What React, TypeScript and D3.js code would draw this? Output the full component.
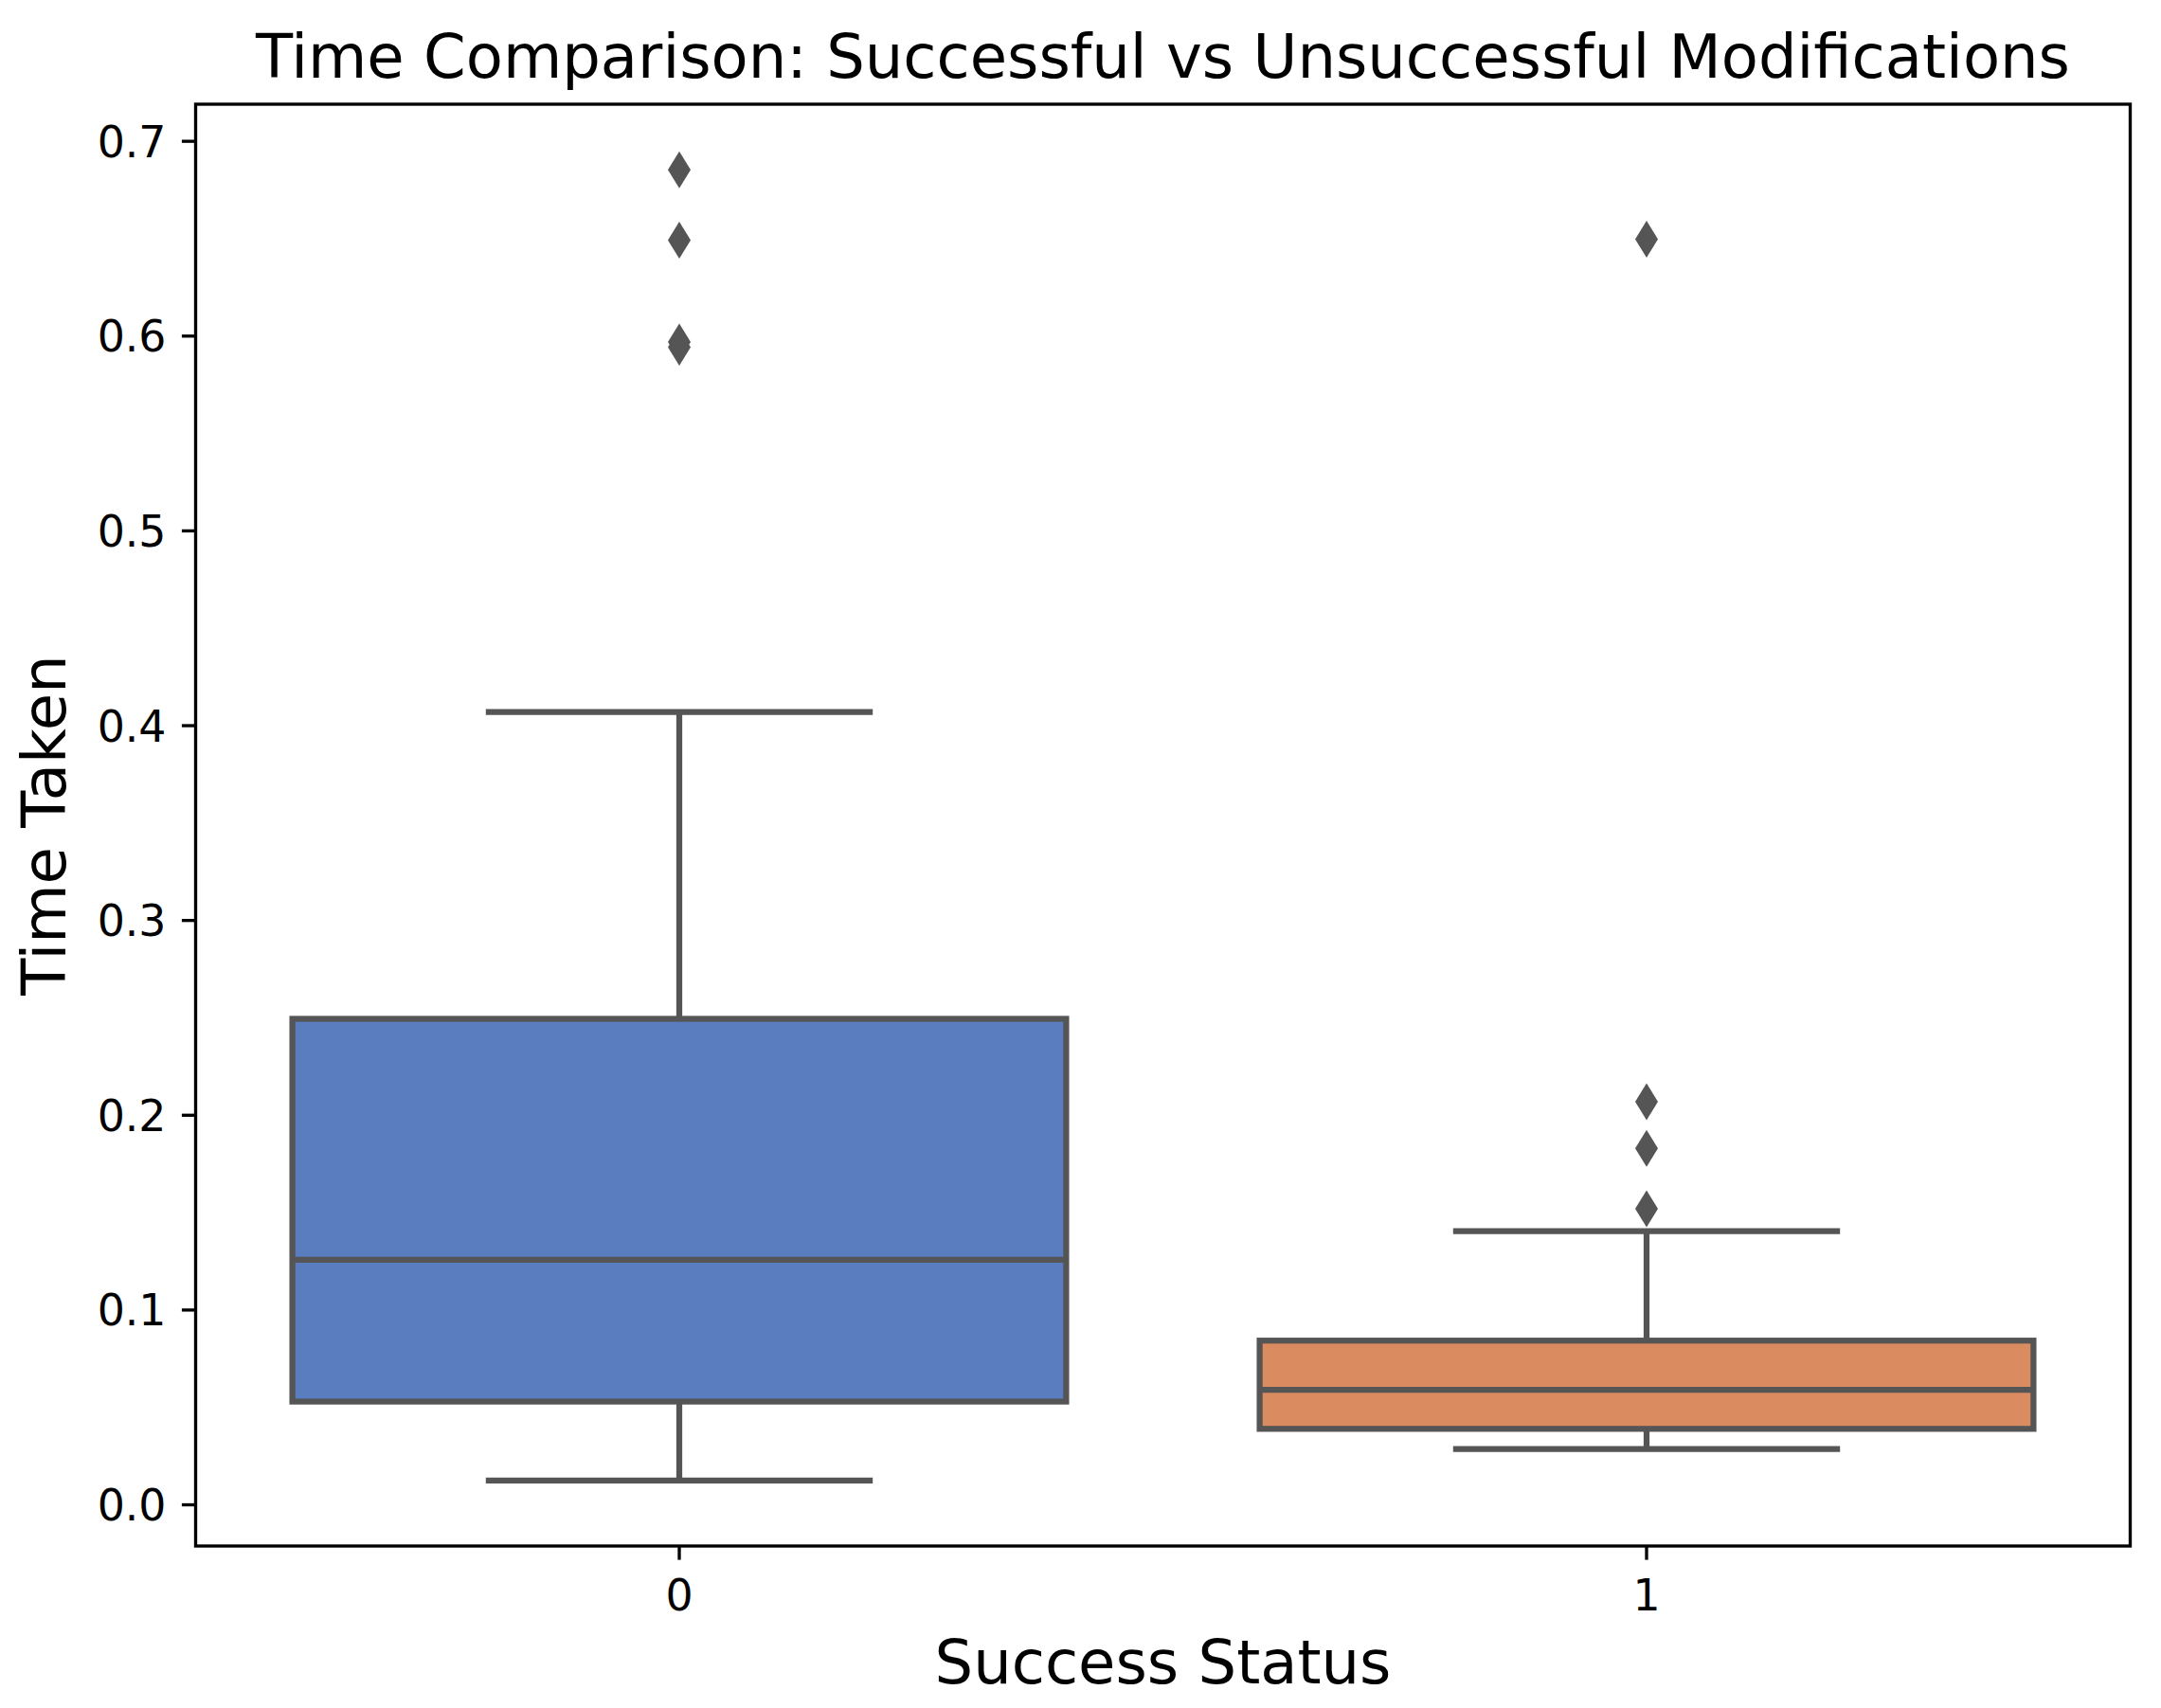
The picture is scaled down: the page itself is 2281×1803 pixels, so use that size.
import React from "react";
import * as d3 from "d3";

const categories = ["0", "1"];
const boxColors = ["#597DBF", "#DA8B5F"];
const q1Values = [0.053, 0.039];
const medianValues = [0.1258, 0.059];
const q3Values = [0.2495, 0.0843];
const whiskerLow = [0.0125, 0.0287];
const whiskerHigh = [0.407, 0.1405];
const outliers0 = [0.6854, 0.6492, 0.597, 0.5943];
const outliers1 = [0.6497, 0.207, 0.183, 0.152];
const outliers = [outliers0, outliers1];
const yTicks = [0, 0.1, 0.2, 0.3, 0.4, 0.5, 0.6, 0.7];

const W = 2281;
const H = 1803;
const left = 206.5;
const right = 2248.5;
const top = 110;
const bottom = 1632;
const lineGray = "#555555";
const lw = 6.25;
const font = "DejaVu Sans, sans-serif";
const tickFont = 45.8;
const labelFont = 64;

export default function App() {
  const allVals = [...whiskerLow, ...whiskerHigh, ...outliers0, ...outliers1];
  const mn = d3.min(allVals) as number;
  const mx = d3.max(allVals) as number;
  const pad = (mx - mn) * 0.05;
  const y = d3.scaleLinear().domain([mn - pad, mx + pad]).range([bottom, top]);
  const x = d3.scaleLinear().domain([-0.5, categories.length - 0.5]).range([left, right]);
  const boxW = x(0.8) - x(0);
  const fmt = d3.format(".1f");

  const diamond = (cx: number, cy: number) =>
    `M${cx},${cy - 19.5}L${cx + 12},${cy}L${cx},${cy + 19.5}L${cx - 12},${cy}Z`;

  return (
    <svg width={W} height={H} style={{ position: "absolute", left: 0, top: 0, background: "#fff" }}>
      <rect x={0} y={0} width={W} height={H} fill="#fff" />
      {categories.map((c, i) => {
        const cx = x(i);
        const x0 = cx - boxW / 2;
        const capHalf = boxW / 4;
        return (
          <g key={c}>
            <line x1={cx} x2={cx} y1={y(q3Values[i])} y2={y(whiskerHigh[i])} stroke={lineGray} strokeWidth={lw} />
            <line x1={cx} x2={cx} y1={y(q1Values[i])} y2={y(whiskerLow[i])} stroke={lineGray} strokeWidth={lw} />
            <line x1={cx - capHalf} x2={cx + capHalf} y1={y(whiskerHigh[i])} y2={y(whiskerHigh[i])} stroke={lineGray} strokeWidth={lw} />
            <line x1={cx - capHalf} x2={cx + capHalf} y1={y(whiskerLow[i])} y2={y(whiskerLow[i])} stroke={lineGray} strokeWidth={lw} />
            <rect
              x={x0}
              y={y(q3Values[i])}
              width={boxW}
              height={y(q1Values[i]) - y(q3Values[i])}
              fill={boxColors[i]}
              stroke={lineGray}
              strokeWidth={lw}
            />
            <line x1={x0} x2={x0 + boxW} y1={y(medianValues[i])} y2={y(medianValues[i])} stroke={lineGray} strokeWidth={lw} />
            {outliers[i].map((v, k) => (
              <path key={k} d={diamond(cx, y(v))} fill={lineGray} />
            ))}
          </g>
        );
      })}
      <rect x={left} y={top} width={right - left} height={bottom - top} fill="none" stroke="#000" strokeWidth={3.33} />
      {yTicks.map((t) => (
        <g key={t}>
          <line x1={left - 14.6} x2={left} y1={y(t)} y2={y(t)} stroke="#000" strokeWidth={3.33} />
          <text x={left - 31} y={y(t)} dy="0.36em" textAnchor="end" fontFamily={font} fontSize={tickFont} fill="#000">
            {fmt(t)}
          </text>
        </g>
      ))}
      {categories.map((c, i) => (
        <g key={c}>
          <line x1={x(i)} x2={x(i)} y1={bottom} y2={bottom + 14.6} stroke="#000" strokeWidth={3.33} />
          <text x={x(i)} y={1700} textAnchor="middle" fontFamily={font} fontSize={tickFont} fill="#000">
            {c}
          </text>
        </g>
      ))}
      <text x={(left + right) / 2} y={82} textAnchor="middle" fontFamily={font} fontSize={labelFont} fill="#000">
        Time Comparison: Successful vs Unsuccessful Modifications
      </text>
      <text x={(left + right) / 2} y={1777} textAnchor="middle" fontFamily={font} fontSize={labelFont} fill="#000">
        Success Status
      </text>
      <text
        transform={`translate(69,${(top + bottom) / 2}) rotate(-90)`}
        textAnchor="middle"
        fontFamily={font}
        fontSize={labelFont}
        fill="#000"
      >
        Time Taken
      </text>
    </svg>
  );
}
